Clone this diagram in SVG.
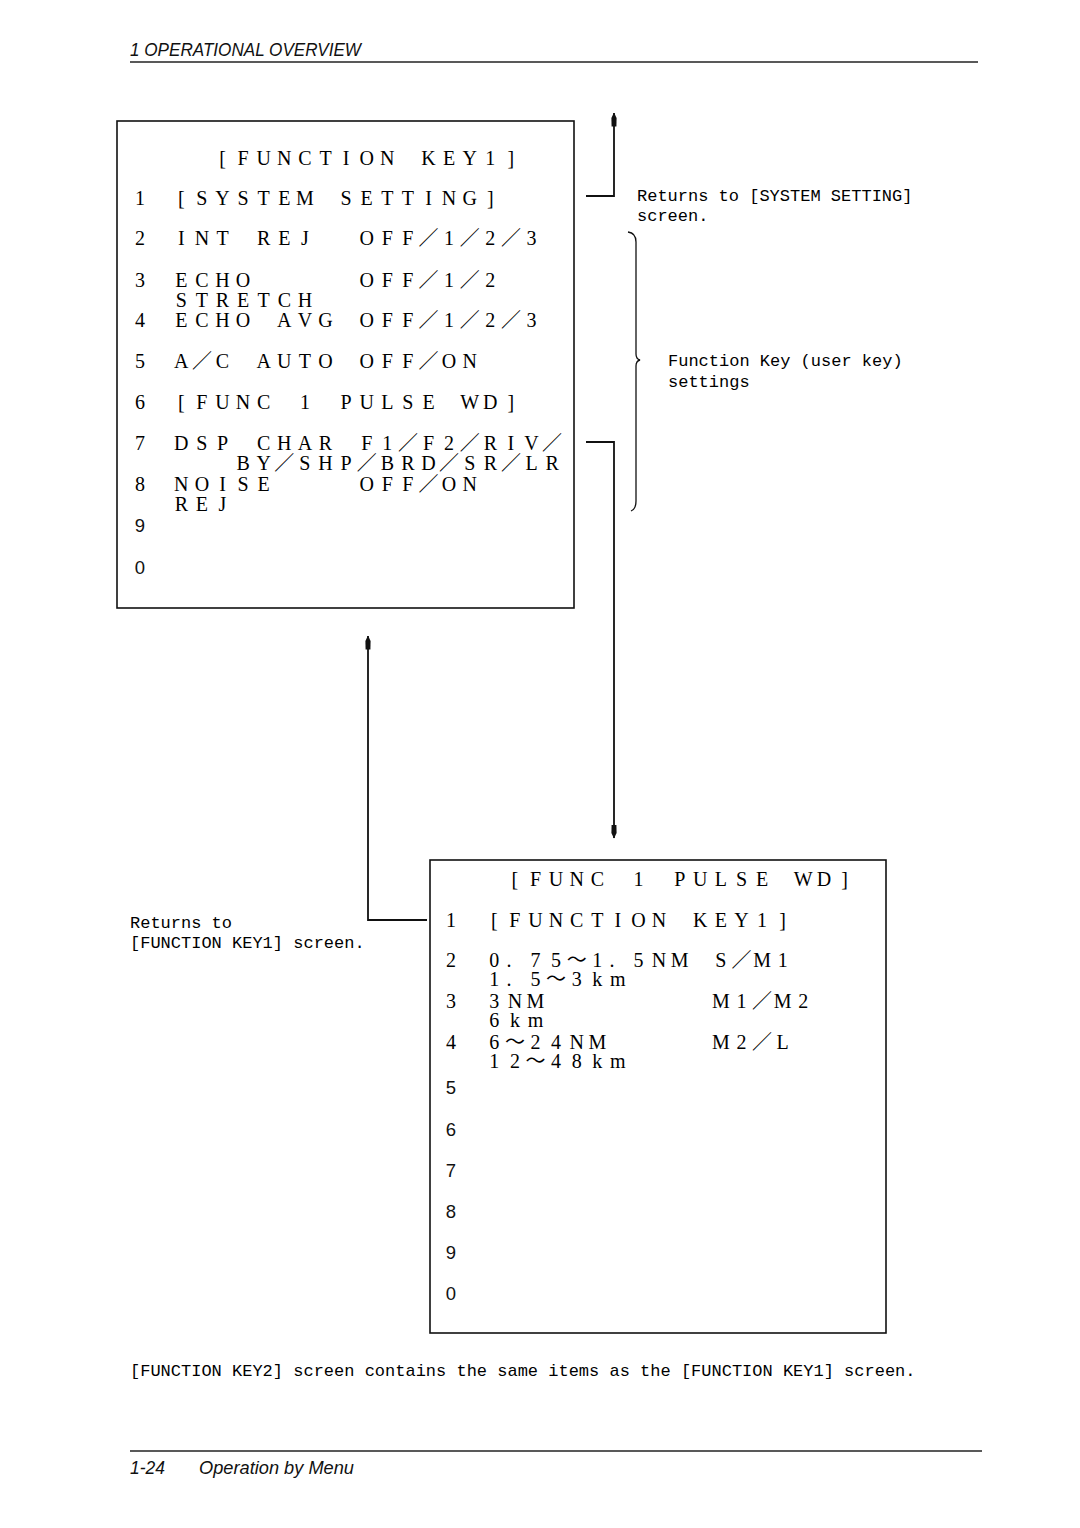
<svg xmlns="http://www.w3.org/2000/svg" width="1080" height="1528" viewBox="0 0 1080 1528">
<defs>
<style>
.box{fill:none;stroke:#111;stroke-width:1.6}
.conn{fill:none;stroke:#111;stroke-width:1.8}
.rule{stroke:#222;stroke-width:1.4}
.m{font-family:"Liberation Serif","Times New Roman","Noto Sans CJK JP",serif;font-size:20px;fill:#000;text-anchor:middle}
.ns{font-family:"Liberation Sans",Arial,sans-serif;font-size:18.5px;fill:#111;text-anchor:middle}
.t{font-family:"Liberation Mono","Courier New",monospace;font-size:17px;fill:#000}
.hdr{font-family:"Liberation Sans",Arial,sans-serif;font-style:italic;font-size:17.5px;fill:#111}
</style>
<marker id="ah" markerUnits="userSpaceOnUse" viewBox="0 0 14 6" refX="13.5" refY="3" markerWidth="14" markerHeight="6" orient="auto">
<path d="M0,0.6 L8.5,0.4 L14,3 L8.5,5.6 L0,5.4 Z" fill="#111"/>
</marker>
</defs>
<rect width="1080" height="1528" fill="#fff"/>

<g id="header">
<text class="hdr" x="130" y="56" textLength="231" lengthAdjust="spacingAndGlyphs">1 OPERATIONAL OVERVIEW</text>
<line class="rule" x1="130" y1="62" x2="978" y2="62"/>
</g>

<g id="function-key1">
<rect class="box" x="117" y="121" width="457" height="487"/>
<text class="m" x="222.5 243.1 263.7 284.3 304.9 325.5 346.1 366.7 387.3" y="165">[FUNCTION</text>
<text class="m" x="428.5 449.1 469.7 490.3 510.9" y="165">KEY1]</text>

<text class="m" x="140" y="205">1</text>
<text class="m" x="181.3 201.9 222.5 243.1 263.7 284.3 304.9" y="205">[SYSTEM</text>
<text class="m" x="346.1 366.7 387.3 407.9 428.5 449.1 469.7 490.3" y="205">SETTING]</text>

<text class="m" x="140" y="245">2</text>
<text class="m" x="181.3 201.9 222.5" y="245">INT</text>
<text class="m" x="263.7 284.3 304.9" y="245">REJ</text>
<text class="m" x="366.7 387.3 407.9 428.5 449.1 469.7 490.3 510.9 531.5" y="245">OFF／1／2／3</text>

<text class="m" x="140" y="287">3</text>
<text class="m" x="181.3 201.9 222.5 243.1" y="287">ECHO</text>
<text class="m" x="366.7 387.3 407.9 428.5 449.1 469.7 490.3" y="287">OFF／1／2</text>
<text class="m" x="181.3 201.9 222.5 243.1 263.7 284.3 304.9" y="307">STRETCH</text>

<text class="m" x="140" y="327">4</text>
<text class="m" x="181.3 201.9 222.5 243.1" y="327">ECHO</text>
<text class="m" x="284.3 304.9 325.5" y="327">AVG</text>
<text class="m" x="366.7 387.3 407.9 428.5 449.1 469.7 490.3 510.9 531.5" y="327">OFF／1／2／3</text>

<text class="m" x="140" y="368">5</text>
<text class="m" x="181.3 201.9 222.5" y="368">A／C</text>
<text class="m" x="263.7 284.3 304.9 325.5" y="368">AUTO</text>
<text class="m" x="366.7 387.3 407.9 428.5 449.1 469.7" y="368">OFF／ON</text>

<text class="m" x="140" y="409">6</text>
<text class="m" x="181.3 201.9 222.5 243.1 263.7" y="409">[FUNC</text>
<text class="m" x="304.9" y="409">1</text>
<text class="m" x="346.1 366.7 387.3 407.9 428.5" y="409">PULSE</text>
<text class="m" x="469.7 490.3 510.9" y="409">WD]</text>

<text class="m" x="140" y="450">7</text>
<text class="m" x="181.3 201.9 222.5" y="450">DSP</text>
<text class="m" x="263.7 284.3 304.9 325.5" y="450">CHAR</text>
<text class="m" x="366.7 387.3 407.9 428.5 449.1 469.7 490.3 510.9 531.5 552.1" y="450">F1／F2／RIV／</text>
<text class="m" x="243.1 263.7 284.3 304.9 325.5 346.1 366.7 387.3 407.9 428.5 449.1 469.7 490.3 510.9 531.5 552.1" y="470">BY／SHP／BRD／SR／LR</text>

<text class="m" x="140" y="491">8</text>
<text class="m" x="181.3 201.9 222.5 243.1 263.7" y="491">NOISE</text>
<text class="m" x="366.7 387.3 407.9 428.5 449.1 469.7" y="491">OFF／ON</text>
<text class="m" x="181.3 201.9 222.5" y="511">REJ</text>

<text class="ns" x="140" y="532">9</text>
<text class="ns" x="140" y="574">0</text>
</g>

<g id="pulse-wd">
<rect class="box" x="430" y="860" width="456" height="473"/>
<text class="m" x="514.9 535.5 556.1 576.7 597.3" y="886">[FUNC</text>
<text class="m" x="638.5" y="886">1</text>
<text class="m" x="679.7 700.3 720.9 741.5 762.1" y="886">PULSE</text>
<text class="m" x="803.3 823.9 844.5" y="886">WD]</text>

<text class="m" x="451" y="927">1</text>
<text class="m" x="494.3 514.9 535.5 556.1 576.7 597.3 617.9 638.5 659.1" y="927">[FUNCTION</text>
<text class="m" x="700.3 720.9 741.5 762.1 782.7" y="927">KEY1]</text>

<text class="m" x="451" y="967">2</text>
<text class="m" x="494.3 509 535.5 556.1 576.7 597.3 611.9 638.5 659.1 679.7" y="967">0.75～1.5NM</text>
<text class="m" x="720.9 741.5 762.1 782.7" y="967">S／M1</text>
<text class="m" x="494.3 509 535.5 556.1 576.7 597.3 617.9" y="986">1.5～3km</text>

<text class="m" x="451" y="1008">3</text>
<text class="m" x="494.3 514.9 535.5" y="1008">3NM</text>
<text class="m" x="720.9 741.5 762.1 782.7 803.3" y="1008">M1／M2</text>
<text class="m" x="494.3 514.9 535.5" y="1027">6km</text>

<text class="m" x="451" y="1049">4</text>
<text class="m" x="494.3 514.9 535.5 556.1 576.7 597.3" y="1049">6～24NM</text>
<text class="m" x="720.9 741.5 762.1 782.7" y="1049">M2／L</text>
<text class="m" x="494.3 514.9 535.5 556.1 576.7 597.3 617.9" y="1068">12～48km</text>

<text class="ns" x="451" y="1094">5</text>
<text class="ns" x="451" y="1136">6</text>
<text class="ns" x="451" y="1177">7</text>
<text class="ns" x="451" y="1218">8</text>
<text class="ns" x="451" y="1259">9</text>
<text class="ns" x="451" y="1300">0</text>
</g>

<g id="notes">
<text class="t" x="637" y="201">Returns to [SYSTEM SETTING]</text>
<text class="t" x="637" y="221">screen.</text>
<path class="conn" style="stroke-width:1.3" d="M628,232 Q636,233 636,242 L636,354 Q636,359 640,360 Q636,361 636,366 L636,501 Q636,509 631,511"/>
<text class="t" x="668" y="366">Function Key (user key)</text>
<text class="t" x="668" y="387">settings</text>
<text class="t" x="130" y="928">Returns to</text>
<text class="t" x="130" y="948">[FUNCTION KEY1] screen.</text>
<text class="t" x="130" y="1376">[FUNCTION KEY2] screen contains the same items as the [FUNCTION KEY1] screen.</text>
</g>

<g id="connectors">
<path class="conn" d="M586,196 H614 V113" marker-end="url(#ah)"/>
<path class="conn" d="M586,442 H614 V838" marker-end="url(#ah)"/>
<path class="conn" d="M427,920 H368 V636" marker-end="url(#ah)"/>
</g>

<g id="footer">
<line class="rule" x1="130" y1="1451" x2="982" y2="1451"/>
<text class="hdr" x="130" y="1474">1-24</text>
<text class="hdr" x="199" y="1474" textLength="155" lengthAdjust="spacingAndGlyphs">Operation by Menu</text>
</g>
</svg>
